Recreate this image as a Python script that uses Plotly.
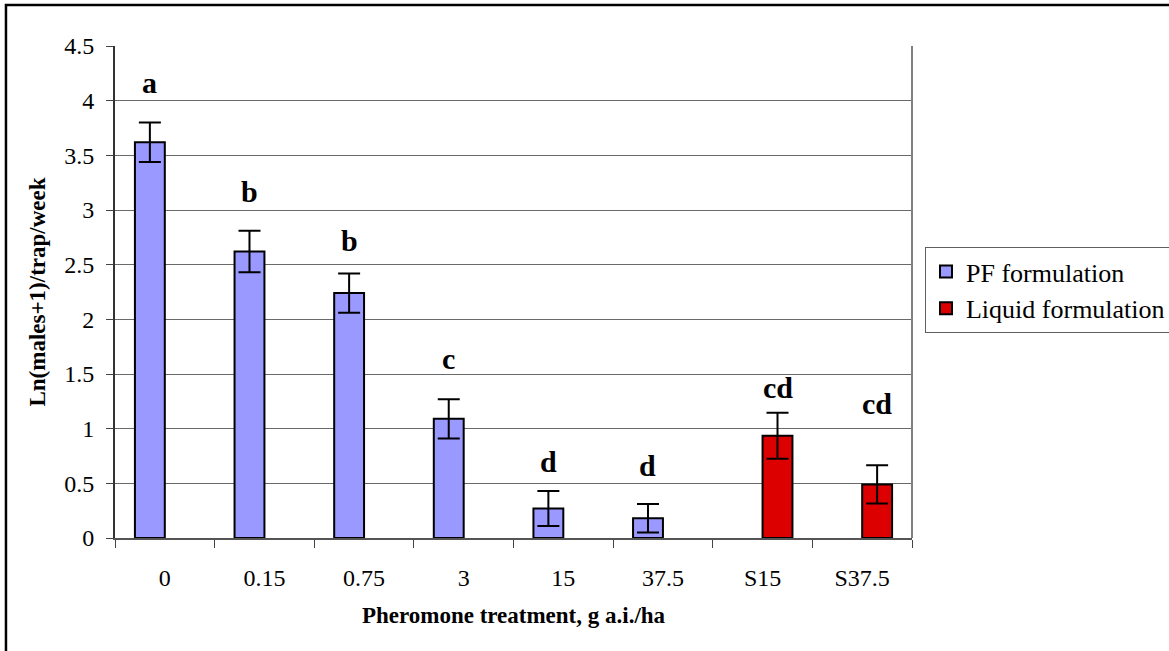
import plotly.graph_objects as go

categories = ["0", "0.15", "0.75", "3", "15", "37.5", "S15", "S37.5"]
pf_values = [3.62, 2.62, 2.24, 1.09, 0.27, 0.18, None, None]
pf_errors = [0.18, 0.19, 0.18, 0.18, 0.16, 0.13, None, None]
liquid_values = [None, None, None, None, None, None, 0.935, 0.49]
liquid_errors = [None, None, None, None, None, None, 0.21, 0.175]
letters = ["a", "b", "b", "c", "d", "d", "cd", "cd"]
letter_y = [4.17, 3.17, 2.72, 1.64, 0.70, 0.66, 1.375, 1.23]
letter_series = ["pf", "pf", "pf", "pf", "pf", "pf", "liq", "liq"]

FONT = "Liberation Serif"

fig = go.Figure()
fig.add_trace(go.Bar(
    x=categories, y=pf_values, name="PF formulation",
    marker=dict(color="#9999FF", line=dict(color="black", width=2)),
    error_y=dict(type="data", array=pf_errors, color="black", thickness=2, width=11),
    legendgroup="pf",
))
fig.add_trace(go.Bar(
    x=categories, y=liquid_values, name="Liquid formulation",
    marker=dict(color="#DD0000", line=dict(color="black", width=2)),
    error_y=dict(type="data", array=liquid_errors, color="black", thickness=2, width=11),
    legendgroup="liq",
))

for i, (lab, ly, ser) in enumerate(zip(letters, letter_y, letter_series)):
    fig.add_annotation(
        x=i, y=ly, text=f"<b>{lab}</b>", showarrow=False,
        xref="x", yref="y", xshift=-15 if ser == "pf" else 15,
        font=dict(family=FONT, size=30, color="black"),
    )

# right border of plot area (gray)
fig.add_shape(type="line", xref="paper", yref="paper", x0=1, x1=1, y0=0, y1=1,
              line=dict(color="#808080", width=2))
# outer frame
fig.add_shape(type="rect", xref="paper", yref="paper",
              x0=-0.1368, x1=1.5, y0=-0.5, y1=1.0833,
              line=dict(color="black", width=2.5), layer="above")

fig.update_layout(
    width=1169, height=651,
    margin=dict(l=115, r=257, t=46, b=113, autoexpand=False),
    paper_bgcolor="white", plot_bgcolor="white",
    barmode="group", bargap=0.4, bargroupgap=0,
    font=dict(family=FONT, size=24, color="black"),
    showlegend=True,
    legend=dict(
        x=1.0163, y=0.5915, xanchor="left", yanchor="top",
        bordercolor="#606060", borderwidth=1,
        font=dict(family=FONT, size=26, color="black"),
        traceorder="grouped", tracegroupgap=0, itemwidth=30,
        bgcolor="white",
    ),
    xaxis=dict(
        type="category", range=[-0.5, 7.5],
        showline=True, linecolor="#555555", linewidth=2,
        ticks="outside", tickson="boundaries", ticklen=8, tickcolor="#444444",
        tickwidth=1, ticklabelstandoff=17, tickangle=0,
        tickfont=dict(family=FONT, size=24, color="black"),
        title=dict(text="<b>Pheromone treatment, g a.i./ha</b>", standoff=17,
                   font=dict(family=FONT, size=23, color="black")),
        showgrid=False, zeroline=False,
    ),
    yaxis=dict(
        range=[0, 4.5], dtick=0.5, tick0=0,
        showline=True, linecolor="#333333", linewidth=2,
        ticks="outside", ticklen=7, tickcolor="#444444", tickwidth=1,
        showgrid=True, gridcolor="#6a6a6a", gridwidth=1,
        zeroline=False, ticklabelstandoff=7,
        tickfont=dict(family=FONT, size=24, color="black"),
        title=dict(text="<b>Ln(males+1)/trap/week</b>", standoff=12,
                   font=dict(family=FONT, size=23, color="black")),
    ),
)

fig.write_html("out.html", config={"displayModeBar": False},
               post_script="document.body.style.margin='0';")
